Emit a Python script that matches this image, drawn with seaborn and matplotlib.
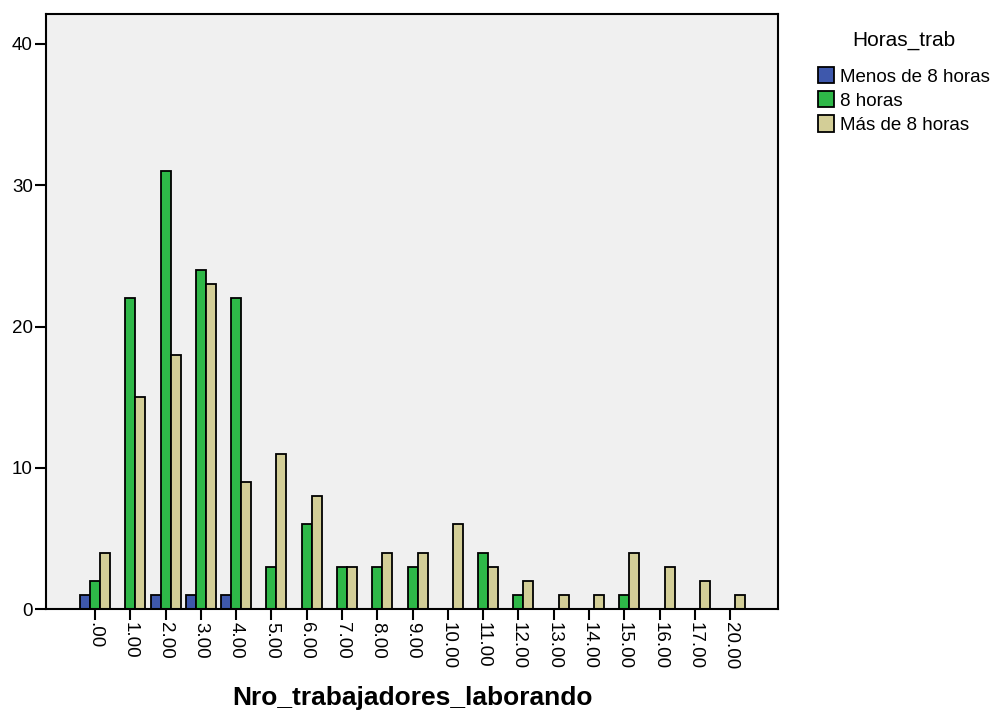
import matplotlib
matplotlib.use("Agg")
import matplotlib.pyplot as plt
import pandas as pd
import seaborn as sns

# --------------------------------------------------
# Data
# --------------------------------------------------
categorias = [".00", "1.00", "2.00", "3.00", "4.00", "5.00", "6.00", "7.00",
              "8.00", "9.00", "10.00", "11.00", "12.00", "13.00", "14.00",
              "15.00", "16.00", "17.00", "20.00"]
menos_8 = [1, 0, 1, 1, 1, 0, 0, 0, 0, 0, 0, 0, 0, 0, 0, 0, 0, 0, 0]
ocho_horas = [2, 22, 31, 24, 22, 3, 6, 3, 3, 3, 0, 4, 1, 0, 0, 1, 0, 0, 0]
mas_8 = [4, 15, 18, 23, 9, 11, 8, 3, 4, 4, 6, 3, 2, 1, 1, 4, 3, 2, 1]
grupos = ["Menos de 8 horas", "8 horas", "Más de 8 horas"]
colores = ["#3E58AC", "#2EB848", "#D3CE97"]

rows = []
for grupo, vals in zip(grupos, [menos_8, ocho_horas, mas_8]):
    for cat, v in zip(categorias, vals):
        rows.append({"Nro": cat, "Horas_trab": grupo, "n": v})
df = pd.DataFrame(rows)
df = df[df["n"] > 0]  # SPSS draws no bar for empty cells

# --------------------------------------------------
# Plot
# --------------------------------------------------
sns.set_theme(style="white")
plt.rcParams["font.family"] = ["Liberation Sans", "DejaVu Sans"]
plt.rcParams["text.color"] = "black"

fig = plt.figure(figsize=(9.99, 7.15), dpi=100)
ax = fig.add_axes([0.046, 0.148, 0.733, 0.832])
ax.set_facecolor("#F0F0F0")

sns.barplot(data=df, x="Nro", y="n", hue="Horas_trab", order=categorias,
            hue_order=grupos, palette=colores, saturation=1, width=0.85,
            edgecolor="black", linewidth=1.3, ax=ax)

ax.set_xlim(-1.39, 19.36)
ax.set_ylim(0, 42.1)
ax.set_yticks([0, 10, 20, 30, 40])
ax.tick_params(axis="both", direction="out", length=8, width=1.5, pad=1.5,
               colors="black", labelcolor="black", labelsize=13.5,
               left=True, bottom=True)
plt.setp(ax.get_xticklabels(), rotation=270, ha="center", va="top")
for s in ax.spines.values():
    s.set_color("black")
    s.set_linewidth(1.5)

ax.set_xlabel("Nro_trabajadores_laborando", fontsize=19, fontweight="bold",
              color="black", labelpad=12)
ax.set_ylabel("")

handles, labels = ax.get_legend_handles_labels()
leg = ax.legend(handles, labels, title="Horas_trab", loc="upper left",
                bbox_to_anchor=(0.802, 0.980), bbox_transform=fig.transFigure,
                frameon=False, fontsize=13.5, title_fontsize=15,
                handlelength=0.85, handleheight=0.95, handletextpad=0.3,
                labelspacing=0.3)
leg.get_title().set_color("black")
leg._legend_box.sep = 12

fig.savefig("out.png", dpi=100)
